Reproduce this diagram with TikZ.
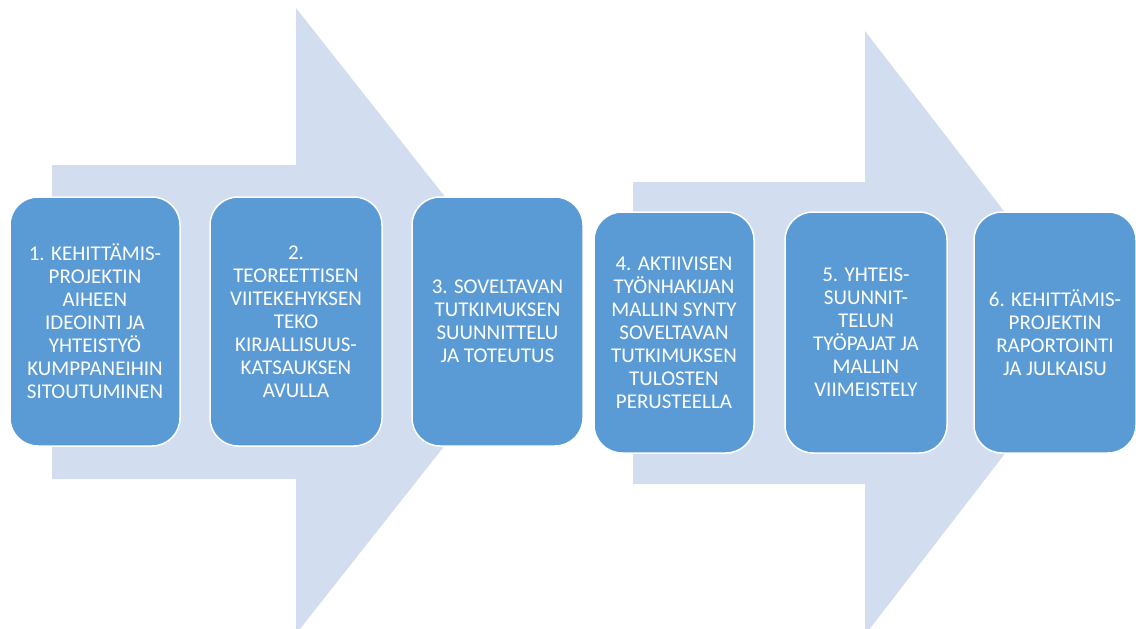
\documentclass[tikz,border=0pt]{standalone}
\usepackage{fontspec}
\setmainfont{Carlito}
\definecolor{arrowfill}{RGB}{210,222,239}
\definecolor{boxfill}{RGB}{91,155,213}
\begin{document}
\begin{tikzpicture}[x=1pt,y=-1pt,
  stepbox/.style={rectangle, rounded corners=28pt, fill=boxfill, draw=white, line width=1.5pt,
    inner sep=0pt, align=center, text=white, font=\fontsize{21}{23}\selectfont},
  bigarrow/.style={fill=arrowfill, draw=none}]
\useasboundingbox (0,0) rectangle (1136,629);
\clip (0,0) rectangle (1136,629);
% big background arrows
\fill[bigarrow] (52,165) -- (296,165) -- (296,8) -- (543,321) -- (296,634) -- (296,479) -- (52,479) -- cycle;
\fill[bigarrow] (633,182) -- (865,182) -- (865,31) -- (1098,333) -- (865,635) -- (865,484) -- (633,484) -- cycle;
% steps
\node[stepbox, minimum width=170pt, minimum height=249pt] (s1) at (95,321.5)
  {1. KEHITTÄMIS-\\PROJEKTIN\\AIHEEN\\IDEOINTI JA\\YHTEISTYÖ\\KUMPPANEIHIN\\SITOUTUMINEN};
\node[stepbox, minimum width=172pt, minimum height=249pt] (s2) at (296,321.5)
  {2.\\TEOREETTISEN\\VIITEKEHYKSEN\\TEKO\\KIRJALLISUUS-\\KATSAUKSEN\\AVULLA};
\node[stepbox, minimum width=171pt, minimum height=249pt] (s3) at (497.5,321.5)
  {3. SOVELTAVAN\\TUTKIMUKSEN\\SUUNNITTELU\\JA TOTEUTUS};
\node[stepbox, minimum width=160pt, minimum height=241pt] (s4) at (674,332.5)
  {4. AKTIIVISEN\\TYÖNHAKIJAN\\MALLIN SYNTY\\SOVELTAVAN\\TUTKIMUKSEN\\TULOSTEN\\PERUSTEELLA};
\node[stepbox, minimum width=162pt, minimum height=241pt] (s5) at (866,332.5)
  {5. YHTEIS-\\SUUNNIT-\\TELUN\\TYÖPAJAT JA\\MALLIN\\VIIMEISTELY};
\node[stepbox, minimum width=162pt, minimum height=241pt] (s6) at (1055,332.5)
  {6. KEHITTÄMIS-\\PROJEKTIN\\RAPORTOINTI\\JA JULKAISU};
\end{tikzpicture}
\end{document}
